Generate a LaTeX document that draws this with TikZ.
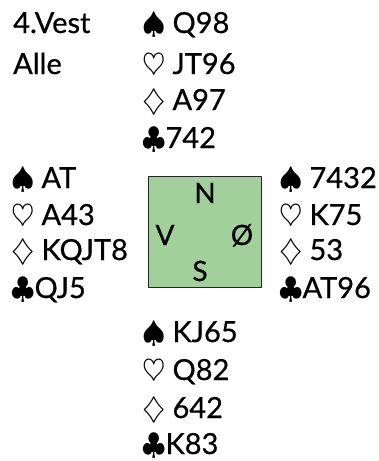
\RequirePackage{fix-cm}
\documentclass[tikz,border=0pt]{standalone}
\usepackage{fontspec}
\setmainfont{Lato}[FakeBold=0.6]
\definecolor{boxgreen}{RGB}{162,208,154}
\newcommand\handfont{\fontsize{29}{35}\selectfont}
\newcommand\dirfont{\fontsize{28}{32}\selectfont}
\newcommand\suitsym[1]{{\fontsize{30}{32}\selectfont$#1$}}
\newcommand\Sp{\suitsym{\spadesuit}\hspace{7pt}}
\newcommand\He{\suitsym{\heartsuit}\hspace{7pt}}
\newcommand\Di{\suitsym{\diamondsuit}\hspace{7pt}}
\newcommand\Cl{\suitsym{\clubsuit}}
\begin{document}
\begin{tikzpicture}[x=1pt,y=-1pt,
  hand/.style={anchor=base west,inner sep=0pt,font=\handfont},
  dir/.style={anchor=base,inner sep=0pt,font=\dirfont},
  table/.style={draw=black!85,line width=0.8pt,fill=boxgreen}]
\useasboundingbox (0,0) rectangle (378,461);
% info
\node[hand] (board) at (13,33) {4.Vest};
\node[hand] (vul) at (13,74) {Alle};
% North
\node[hand] (ns) at (142,33) {\Sp Q98};
\node[hand] (nh) at (142,74) {\He JT96};
\node[hand] (nd) at (142,110) {\Di A97};
\node[hand] (nc) at (142,148) {\Cl 742};
% West
\node[hand] (ws) at (11,188) {\Sp AT};
\node[hand] (wh) at (11,225) {\He A43};
\node[hand] (wd) at (11,260) {\Di KQJT8};
\node[hand] (wc) at (11,298) {\Cl QJ5};
% East
\node[hand] (es) at (279,188) {\Sp 7432};
\node[hand] (eh) at (279,225) {\He K75};
\node[hand] (ed) at (279,260) {\Di 53};
\node[hand] (ec) at (279,298) {\Cl AT96};
% South
\node[hand] (ss) at (142,342) {\Sp KJ65};
\node[hand] (sh) at (142,380) {\He Q82};
\node[hand] (sd) at (142,418) {\Di 642};
\node[hand] (sc) at (142,454) {\Cl K83};
% table
\path[table] (148,176) rectangle (261,287);
\node[dir] (dN) at (205,203) {N};
\node[dir] (dV) at (165,245) {V};
\node[dir] (dO) at (242,245) {Ø};
\node[dir] (dS) at (200,281) {S};
\end{tikzpicture}
\end{document}
